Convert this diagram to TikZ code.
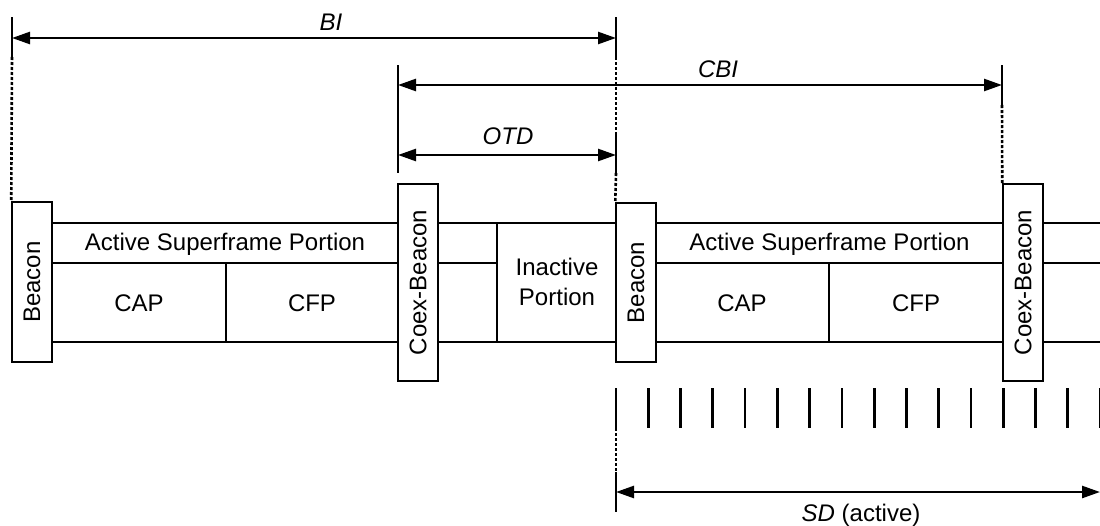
\documentclass[tikz,border=0pt]{standalone}
\usepackage{fontspec}
\setmainfont{Liberation Sans}
\usetikzlibrary{arrows.meta}
\begin{document}
\begin{tikzpicture}[x=1pt,y=-1pt,
  box/.style={draw, line width=1.5pt, inner sep=0pt, minimum width=40pt},
  frame/.style={line width=2pt},
  dimarrow/.style={line width=2.5pt, {Triangle[length=18pt,width=12pt]}-{Triangle[length=18pt,width=12pt]}},
  tickline/.style={line width=2.7pt},
  dotline/.style={line width=2.6pt, dash pattern=on 3pt off 2pt},
  lbl/.style={font=\fontsize{24}{30}\selectfont, inner sep=0pt},
  dimlbl/.style={font=\fontsize{24}{30}\selectfont\itshape, inner sep=0pt, anchor=base}]
\useasboundingbox (0,0) rectangle (1100,525);

% helper coordinates
\coordinate (yT) at (0,223);
\coordinate (yM) at (0,263);
\coordinate (yB) at (0,342);
\coordinate (xS1) at (226,0);
\coordinate (xI) at (497,0);
\coordinate (xS2) at (829,0);
\coordinate (xR) at (1100,0);

% boxes
\node[box, minimum height=160pt] (b1) at (32,282) {};
\node[box, minimum height=197pt] (c1) at (418,282.5) {};
\node[box, minimum height=159pt] (b2) at (636,282.5) {};
\node[box, minimum height=197pt] (c2) at (1023,282.5) {};
\node[lbl, rotate=90] (b1t) at (b1.center) {Beacon};
\node[lbl, rotate=90] (c1t) at (c1.center) {Coex-Beacon};
\node[lbl, rotate=90] (b2t) at (b2.center) {Beacon};
\node[lbl, rotate=90] (c2t) at (c2.center) {Coex-Beacon};

% frame lines
\draw[frame] (b1.east |- yT) -- (c1.west |- yT)
             (c1.east |- yT) -- (b2.west |- yT)
             (b2.east |- yT) -- (c2.west |- yT)
             (c2.east |- yT) -- (xR |- yT);
\draw[frame] (b1.east |- yB) -- (c1.west |- yB)
             (c1.east |- yB) -- (b2.west |- yB)
             (b2.east |- yB) -- (c2.west |- yB)
             (c2.east |- yB) -- (xR |- yB);
\draw[frame] (b1.east |- yM) -- (c1.west |- yM)
             (c1.east |- yM) -- (xI |- yM)
             (b2.east |- yM) -- (c2.west |- yM)
             (c2.east |- yM) -- (xR |- yM);
\draw[frame] (xI |- yT) -- (xI |- yB);
\draw[frame] (xS1 |- yM) -- (xS1 |- yB);
\draw[frame] (xS2 |- yM) -- (xS2 |- yB);

% texts in frame
\node[lbl, anchor=base] (asp1) at (225,250.6) {Active Superframe Portion};
\node[lbl, anchor=base] (cap1) at (139,311) {CAP};
\node[lbl, anchor=base] (cfp1) at (312,311) {CFP};
\node[lbl, anchor=base, align=center] (inact) at (557,305.6) {Inactive\\Portion};
\node[lbl, anchor=base] (asp2) at (829.5,250.6) {Active Superframe Portion};
\node[lbl, anchor=base] (cap2) at (742,311) {CAP};
\node[lbl, anchor=base] (cfp2) at (916,311) {CFP};

% BI
\draw[tickline] (12,17) -- (12,57);
\draw[tickline] (616,17) -- (616,57);
\coordinate (biL) at (12,38);
\coordinate (biR) at (616,38);
\draw[dimarrow] (biL) -- (biR);
\node[dimlbl] (bil) at (331,30.6) {BI};
\draw[dotline] (12,57) -- (b1.north west);

% CBI and OTD
\draw[tickline] (398,65) -- (398,173);
\draw[tickline] (1002,65) -- (1002,105);
\draw[dotline] (1002,105) -- (c2.north west);
\coordinate (cbiL) at (398,85);
\coordinate (cbiR) at (1002,85);
\draw[dimarrow] (cbiL) -- (cbiR);
\node[dimlbl] (cbil) at (718,77) {CBI};
\draw[dotline] (616,57) -- (616,133);
\draw[tickline] (616,133) -- (616,173);
\draw[dotline] (616,173) -- (b2.north west);
\coordinate (otdL) at (398,155);
\coordinate (otdR) at (616,155);
\draw[dimarrow] (otdL) -- (otdR);
\node[dimlbl] (otdl) at (508,144.6) {OTD};

% slot ticks
\foreach \i in {0,...,15} {
  \draw[tickline] ({616+\i*32.27},388) -- ({616+\i*32.27},428);
}

% SD
\draw[dotline] (616,428) -- (616,472);
\draw[tickline] (616,472) -- (616,512);
\coordinate (sdL) at (616,492);
\coordinate (sdR) at (1100,492);
\draw[dimarrow] (sdL) -- (sdR);
\node[lbl, anchor=base] (sdl) at (861,521) {\textit{SD} (active)};
\end{tikzpicture}
\end{document}
